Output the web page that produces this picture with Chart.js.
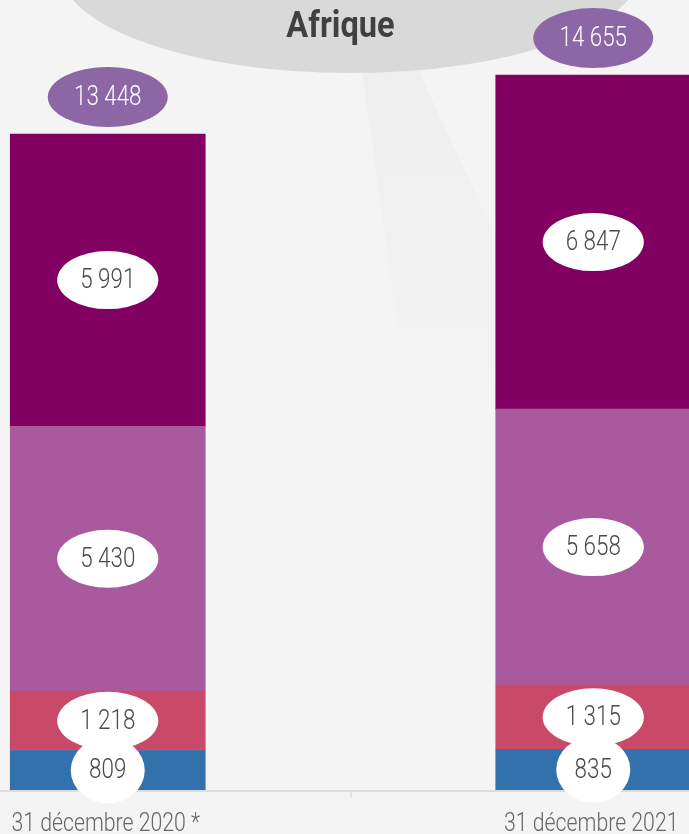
<!DOCTYPE html>
<html>
<head>
<meta charset="utf-8">
<script src="https://cdn.jsdelivr.net/npm/chart.js@4.4.1/dist/chart.umd.min.js"></script>
<style>
    html, body { margin: 0; padding: 0; background: #f4f4f4; }
    #wrap { position: relative; width: 689px; height: 834px; overflow: hidden; background: #f4f4f4; }
    #chart { position: absolute; left: -135px; top: 0; }
</style>
</head>
<body>
<div id="wrap"><canvas id="chart" width="971" height="834"></canvas></div>
<script>
const categories = ['31 décembre 2020 *', '31 décembre 2021'];
const valuesBlue = [809, 835];
const valuesRed = [1218, 1315];
const valuesLightPurple = [5430, 5658];
const valuesDarkPurple = [5991, 6847];
const totals = [13448, 14655];
const title = 'Afrique';

const FONT = "Roboto, 'Liberation Sans', sans-serif";
const NARROW = 0.8; // fake a condensed face by squeezing horizontally

function fmt(n) {
    // French style thousands with a space
    return String(n).replace(/\B(?=(\d{3})+(?!\d))/g, ' ');
}

function ellipse(ctx, x, y, rx, ry, color) {
    ctx.beginPath();
    ctx.ellipse(x, y, rx, ry, 0, 0, Math.PI * 2);
    ctx.fillStyle = color;
    ctx.fill();
}

function narrowText(ctx, txt, x, y, sx) {
    ctx.save();
    ctx.translate(x, y);
    ctx.scale(sx, 1);
    ctx.fillText(txt, 0, 0);
    ctx.restore();
}

const decor = {
    id: 'decor',
    beforeDraw(chart) {
        const ctx = chart.ctx;
        const xs = chart.scales.x;
        const mid = (xs.getPixelForValue(0) + xs.getPixelForValue(1)) / 2;
        ctx.save();
        ctx.fillStyle = '#f4f4f4';
        ctx.fillRect(0, 0, chart.width, chart.height);

        // faint tail under the title bubble
        const g = ctx.createLinearGradient(0, 60, 0, 420);
        g.addColorStop(0, 'rgba(0,0,0,0.025)');
        g.addColorStop(1, 'rgba(0,0,0,0)');
        ctx.fillStyle = g;
        ctx.beginPath();
        ctx.moveTo(mid + 10, 60);
        ctx.lineTo(mid + 63, 60);
        ctx.lineTo(mid + 147, 240);
        ctx.lineTo(mid + 147, 420);
        ctx.lineTo(mid + 60, 420);
        ctx.closePath();
        ctx.fill();

        // title bubble
        ellipse(ctx, mid, -30, 290, 103, '#d9d9d9');
        ctx.fillStyle = '#404040';
        ctx.font = 'bold 37px ' + FONT;
        ctx.textAlign = 'center';
        ctx.textBaseline = 'alphabetic';
        narrowText(ctx, title, mid - 10, 37, 0.88);
        ctx.restore();
    },
    afterDatasetsDraw(chart) {
        const ctx = chart.ctx;
        const xs = chart.scales.x;
        const ys = chart.scales.y;
        const base = ys.getPixelForValue(0);
        const mid = (xs.getPixelForValue(0) + xs.getPixelForValue(1)) / 2;
        ctx.save();

        // axis line + middle tick
        ctx.strokeStyle = '#dcdcdc';
        ctx.lineWidth = 2;
        ctx.beginPath();
        ctx.moveTo(0, base + 1);
        ctx.lineTo(chart.width, base + 1);
        ctx.stroke();
        ctx.lineWidth = 1;
        ctx.strokeStyle = '#cfcfcf';
        ctx.beginPath();
        ctx.moveTo(mid + 0.5, base + 2);
        ctx.lineTo(mid + 0.5, base + 8);
        ctx.stroke();

        // category labels
        ctx.fillStyle = '#666666';
        ctx.font = '300 25px ' + FONT;
        ctx.textAlign = 'center';
        ctx.textBaseline = 'alphabetic';
        categories.forEach((c, i) => {
            narrowText(ctx, c, xs.getPixelForValue(i) - 2, 831, 0.85);
        });

        // segment value bubbles
        ctx.font = '300 28px ' + FONT;
        ctx.textBaseline = 'middle';
        chart.data.datasets.forEach((ds, di) => {
            const meta = chart.getDatasetMeta(di);
            meta.data.forEach((bar, i) => {
                const cy = (bar.y + bar.base) / 2;
                const txt = fmt(ds.data[i]);
                const w = ctx.measureText(txt).width * NARROW;
                const rx = ds.bubble ? ds.bubble.rx : w / 2 + 23;
                const ry = ds.bubble ? ds.bubble.ry : 29;
                ellipse(ctx, bar.x, cy, rx, ry, '#ffffff');
                ctx.fillStyle = '#4a4a4a';
                narrowText(ctx, txt, bar.x, cy + 1, NARROW);
            });
        });

        // totals above bars
        totals.forEach((t, i) => {
            const x = xs.getPixelForValue(i);
            const y = ys.getPixelForValue(t) - 37;
            ellipse(ctx, x, y, 60, 30, '#8d66a6');
            ctx.fillStyle = '#ffffff';
            narrowText(ctx, fmt(t), x, y + 1, NARROW);
        });
        ctx.restore();
    }
};

new Chart(document.getElementById('chart'), {
    type: 'bar',
    data: {
        labels: categories,
        datasets: [
            { label: 'bleu', data: valuesBlue, backgroundColor: '#3371ad', bubble: { rx: 37, ry: 33 } },
            { label: 'rouge', data: valuesRed, backgroundColor: '#c84a68' },
            { label: 'mauve', data: valuesLightPurple, backgroundColor: '#a95a9e' },
            { label: 'violet', data: valuesDarkPurple, backgroundColor: '#820062' }
        ]
    },
    options: {
        responsive: false,
        devicePixelRatio: 1,
        animation: false,
        layout: { padding: { top: 0, bottom: 44, left: 0, right: 0 } },
        datasets: { bar: { barThickness: 195, borderWidth: 0 } },
        plugins: {
            legend: { display: false },
            tooltip: { enabled: false }
        },
        scales: {
            x: { stacked: true, display: false, offset: true },
            y: { stacked: true, display: false, min: 0, max: 16195 }
        }
    },
    plugins: [decor]
});
</script>
</body>
</html>
